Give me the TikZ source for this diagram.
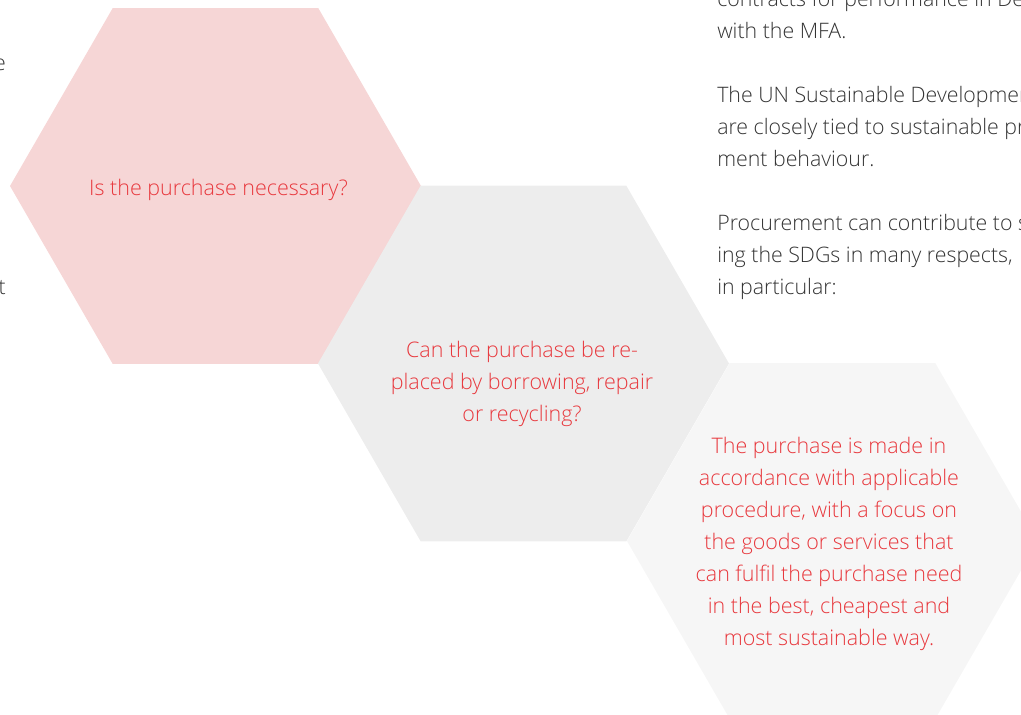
\documentclass[tikz,border=0pt]{standalone}
\usepackage{fontspec}
\setmainfont{Open Sans Light}
\definecolor{hexpink}{HTML}{F6D6D6}
\definecolor{hexgray}{HTML}{EDEDED}
\definecolor{hexlight}{HTML}{F6F6F6}
\definecolor{hexred}{HTML}{E8383D}
\definecolor{bodytext}{HTML}{333333}
\begin{document}
\begin{tikzpicture}[x=0.75pt,y=-0.75pt,
  hexlabel/.style={text=hexred,align=center,anchor=base,inner sep=0pt,font=\fontsize{16.1}{24}\selectfont},
  bodylabel/.style={text=bodytext,align=left,anchor=base west,inner sep=0pt,font=\fontsize{16}{24}\selectfont}]
\useasboundingbox (0,0) rectangle (1021,714);
\clip (0,0) rectangle (1021,714);
\def\R{205.5}
\coordinate (c1) at (215.5,186);
\coordinate (c2) at (523.5,363.5);
\coordinate (c3) at (832.5,541);
\fill[hexpink] (c1) +(0:\R) -- +(60:\R) -- +(120:\R) -- +(180:\R) -- +(240:\R) -- +(300:\R) -- cycle;
\fill[hexgray] (c2) +(0:\R) -- +(60:\R) -- +(120:\R) -- +(180:\R) -- +(240:\R) -- +(300:\R) -- cycle;
\fill[hexlight] (c3) +(0:\R) -- +(60:\R) -- +(120:\R) -- +(180:\R) -- +(240:\R) -- +(300:\R) -- cycle;
\node[hexlabel] (t1) at (218.5,195) {Is the purchase necessary?};
\node[hexlabel] (t2) at (522,421) {Can the purchase be re-\\placed by borrowing, repair\\or recycling?};
\node[hexlabel] (t3) at (829,645) {The purchase is made in\\accordance with applicable\\procedure, with a focus on\\the goods or services that\\can fulfil the purchase need\\in the best, cheapest and\\most sustainable way.};
\node[bodylabel] (p1) at (717,38) {contracts for performance in Denmark\\with the MFA.};
\node[bodylabel] (p2) at (717,166) {The UN Sustainable Development Goals\\are closely tied to sustainable procure-\\ment behaviour.};
\node[bodylabel] (p3) at (717,294) {Procurement can contribute to support-\\ing the SDGs in many respects,\\in particular:};
\node[text=bodytext,anchor=base east,inner sep=0pt,font=\fontsize{16}{24}\selectfont] (l1) at (6,70) {e};
\node[text=bodytext,anchor=base east,inner sep=0pt,font=\fontsize{16}{24}\selectfont] (l2) at (2,134) {.};
\node[text=bodytext,anchor=base east,inner sep=0pt,font=\fontsize{16}{24}\selectfont] (l3) at (6,294) {t};
\end{tikzpicture}
\end{document}
